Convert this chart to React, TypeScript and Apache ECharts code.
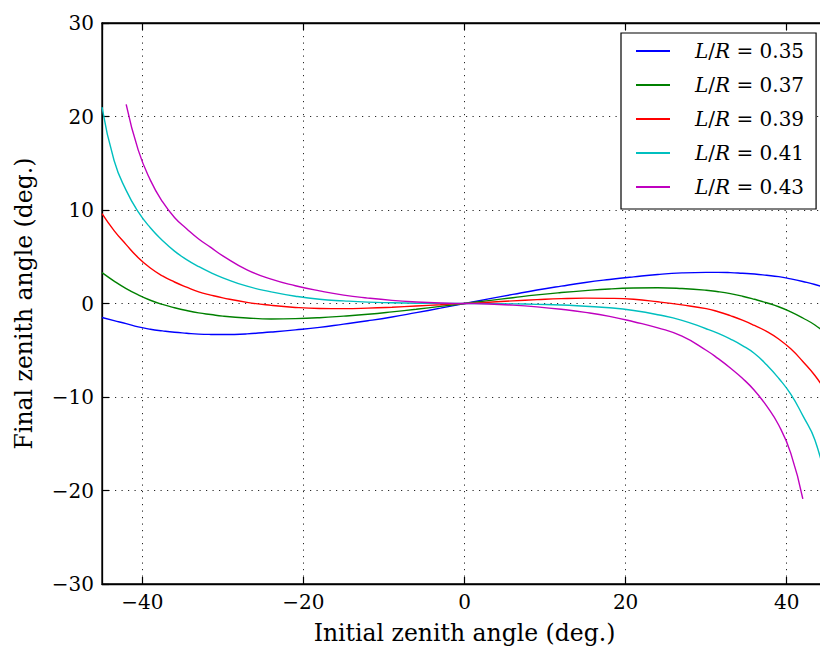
import { useEffect, useRef } from "react";
import * as echarts from "echarts";

// Initial zenith angle samples (deg.): 1.5 degrees towards the ends, 3 degrees in the middle
const anglesFull = [-45, -43.5, -42, -40.5, -39, -37.5, -36, -34.5, -33, -31.5, -30, -27, -24, -21, -18, -15, -12, -9, -6, -3, 0, 3, 6, 9, 12, 15, 18, 21, 24, 27, 30, 31.5, 33, 34.5, 36, 37.5, 39, 40.5, 42, 43.5, 45];
const anglesShort = [-42, -40.5, -39, -37.5, -36, -34.5, -33, -31.5, -30, -27, -24, -21, -18, -15, -12, -9, -6, -3, 0, 3, 6, 9, 12, 15, 18, 21, 24, 27, 30, 31.5, 33, 34.5, 36, 37.5, 39, 40.5, 42];

// Final zenith angle (deg.) for each L/R ratio
const final035 = [-1.5, -1.83, -2.15, -2.5, -2.75, -2.93, -3.08, -3.18, -3.27, -3.31, -3.32, -3.25, -3.05, -2.82, -2.55, -2.2, -1.85, -1.45, -0.98, -0.5, 0, 0.49, 0.97, 1.44, 1.86, 2.25, 2.57, 2.85, 3.1, 3.27, 3.33, 3.33, 3.3, 3.23, 3.15, 3.02, 2.87, 2.63, 2.35, 2.03, 1.6];
const final037 = [3.3, 2.4, 1.6, 0.92, 0.35, -0.1, -0.45, -0.75, -1.0, -1.18, -1.35, -1.55, -1.65, -1.62, -1.52, -1.35, -1.15, -0.9, -0.62, -0.31, 0, 0.31, 0.62, 0.92, 1.17, 1.38, 1.55, 1.65, 1.68, 1.6, 1.42, 1.26, 1.05, 0.78, 0.45, 0.08, -0.35, -0.9, -1.55, -2.3, -3.3];
const final039 = [9.6, 7.8, 6.3, 4.9, 3.8, 2.95, 2.3, 1.75, 1.25, 0.9, 0.6, 0.12, -0.2, -0.42, -0.53, -0.55, -0.5, -0.4, -0.27, -0.14, 0, 0.14, 0.28, 0.41, 0.52, 0.57, 0.55, 0.45, 0.18, -0.15, -0.55, -0.88, -1.3, -1.78, -2.35, -2.98, -3.8, -4.85, -6.2, -7.7, -9.6];
const final041 = [21.0, 15.3, 12.1, 9.8, 8.1, 6.75, 5.6, 4.7, 3.95, 3.3, 2.75, 1.85, 1.25, 0.78, 0.45, 0.28, 0.15, 0.08, 0.03, 0.01, 0, -0.01, -0.04, -0.09, -0.16, -0.3, -0.46, -0.75, -1.2, -1.8, -2.7, -3.2, -3.8, -4.5, -5.35, -6.55, -8.0, -9.7, -12.0, -14.6, -19.5];
const final043 = [21.3, 16.4, 13.2, 10.9, 9.2, 8.0, 6.9, 6.0, 5.1, 3.6, 2.6, 1.9, 1.35, 0.9, 0.58, 0.33, 0.16, 0.05, 0, -0.05, -0.17, -0.36, -0.62, -0.95, -1.38, -1.95, -2.6, -3.5, -5.0, -5.9, -6.9, -8.0, -9.3, -10.95, -13.0, -16.0, -20.9];

const ratios = ["0.35", "0.37", "0.39", "0.41", "0.43"];
const seriesAngles = [anglesFull, anglesFull, anglesFull, anglesFull, anglesShort];
const seriesValues = [final035, final037, final039, final041, final043];
const lineColors = ["#0000ff", "#008000", "#ff0000", "#00bfbf", "#bf00bf"];

const xLabelStep = 20;

const FONT = "DejaVu Serif";

function minusFmt(v: number): string {
  return v < 0 ? "\u2212" + Math.abs(v) : String(v);
}

export default function App() {
  const ref = useRef<HTMLDivElement>(null);

  useEffect(() => {
    if (!ref.current) return;
    const chart = echarts.init(ref.current, null, { renderer: "svg" });

    const gridDots = { color: "#000", width: 1, type: [1.2, 5.3] as any, opacity: 0.85 };
    const frame = { show: true, onZero: false, lineStyle: { color: "#000", width: 1.3 } };
    const ticks = { show: true, inside: true, length: 7, lineStyle: { color: "#000", width: 1.2 } };

    const series = ratios.map((r, k) => ({
      name: "L/R = " + r,
      type: "line",
      xAxisIndex: 0,
      yAxisIndex: 0,
      data: seriesAngles[k].map((x, i) => [x, seriesValues[k][i]]),
      showSymbol: false,
      smooth: 0.5,
      lineStyle: { color: lineColors[k], width: 1.4 },
      itemStyle: { color: lineColors[k] },
      z: 3,
    }));

    chart.setOption({
      animation: false,
      backgroundColor: "#fff",
      grid: {
        left: 102,
        top: 23,
        bottom: 62,
        width: 725,
        show: true,
        borderColor: "#000",
        borderWidth: 1.3,
        containLabel: false,
        outerBoundsMode: "none",
      },
      legend: {
        left: 621,
        top: 33,
        orient: "vertical",
        padding: [6, 12, 10, 15],
        itemGap: 10,
        itemWidth: 34,
        itemHeight: 2,
        icon: "rect",
        backgroundColor: "#fff",
        borderColor: "#000",
        borderWidth: 1.2,
        borderRadius: 0,
        data: ratios.map((r) => "L/R = " + r),
        formatter: (name: string) => {
          const r = name.split("= ")[1];
          return "{i|L}{n|/}{i|R}{n| = " + r + "}";
        },
        textStyle: {
          fontFamily: FONT,
          fontSize: 20,
          color: "#000",
          lineHeight: 24,
          padding: [0, 0, 0, 20],
          rich: {
            i: { fontFamily: FONT, fontSize: 20, fontStyle: "italic", color: "#000", lineHeight: 24 },
            n: { fontFamily: FONT, fontSize: 20, color: "#000", lineHeight: 24 },
          },
        },
      },
      xAxis: [
        {
          type: "value",
          position: "bottom",
          min: -45,
          max: 45,
          splitNumber: 5,
          name: "Initial zenith angle (deg.)",
          nameLocation: "middle",
          nameGap: 37,
          nameTextStyle: { fontFamily: FONT, fontSize: 23.5, color: "#000" },
          axisLine: frame,
          axisTick: ticks,
          axisLabel: {
            fontFamily: FONT,
            fontSize: 20,
            color: "#000",
            margin: 8,
            showMinLabel: false,
            showMaxLabel: false,
            formatter: (v: number) => (v % xLabelStep === 0 ? minusFmt(v) : ""),
          },
          splitLine: { show: true, lineStyle: gridDots },
        },
        {
          type: "value",
          position: "top",
          min: -45,
          max: 45,
          splitNumber: 5,
          axisLine: frame,
          axisTick: ticks,
          axisLabel: { show: false },
          splitLine: { show: false },
        },
      ],
      yAxis: [
        {
          type: "value",
          min: -30,
          max: 30,
          interval: 10,
          name: "Final zenith angle (deg.)",
          nameLocation: "middle",
          nameRotate: 90,
          nameGap: 66,
          nameTextStyle: { fontFamily: FONT, fontSize: 23.5, color: "#000" },
          axisLine: frame,
          axisTick: ticks,
          axisLabel: {
            fontFamily: FONT,
            fontSize: 20,
            color: "#000",
            margin: 8,
            formatter: (v: number) => minusFmt(v),
          },
          splitLine: { show: true, lineStyle: gridDots },
        },
      ],
      series,
    });

    return () => chart.dispose();
  }, []);

  return (
    <div
      ref={ref}
      style={{ position: "fixed", left: 0, top: 0, width: 820, height: 646, background: "#fff" }}
    />
  );
}
